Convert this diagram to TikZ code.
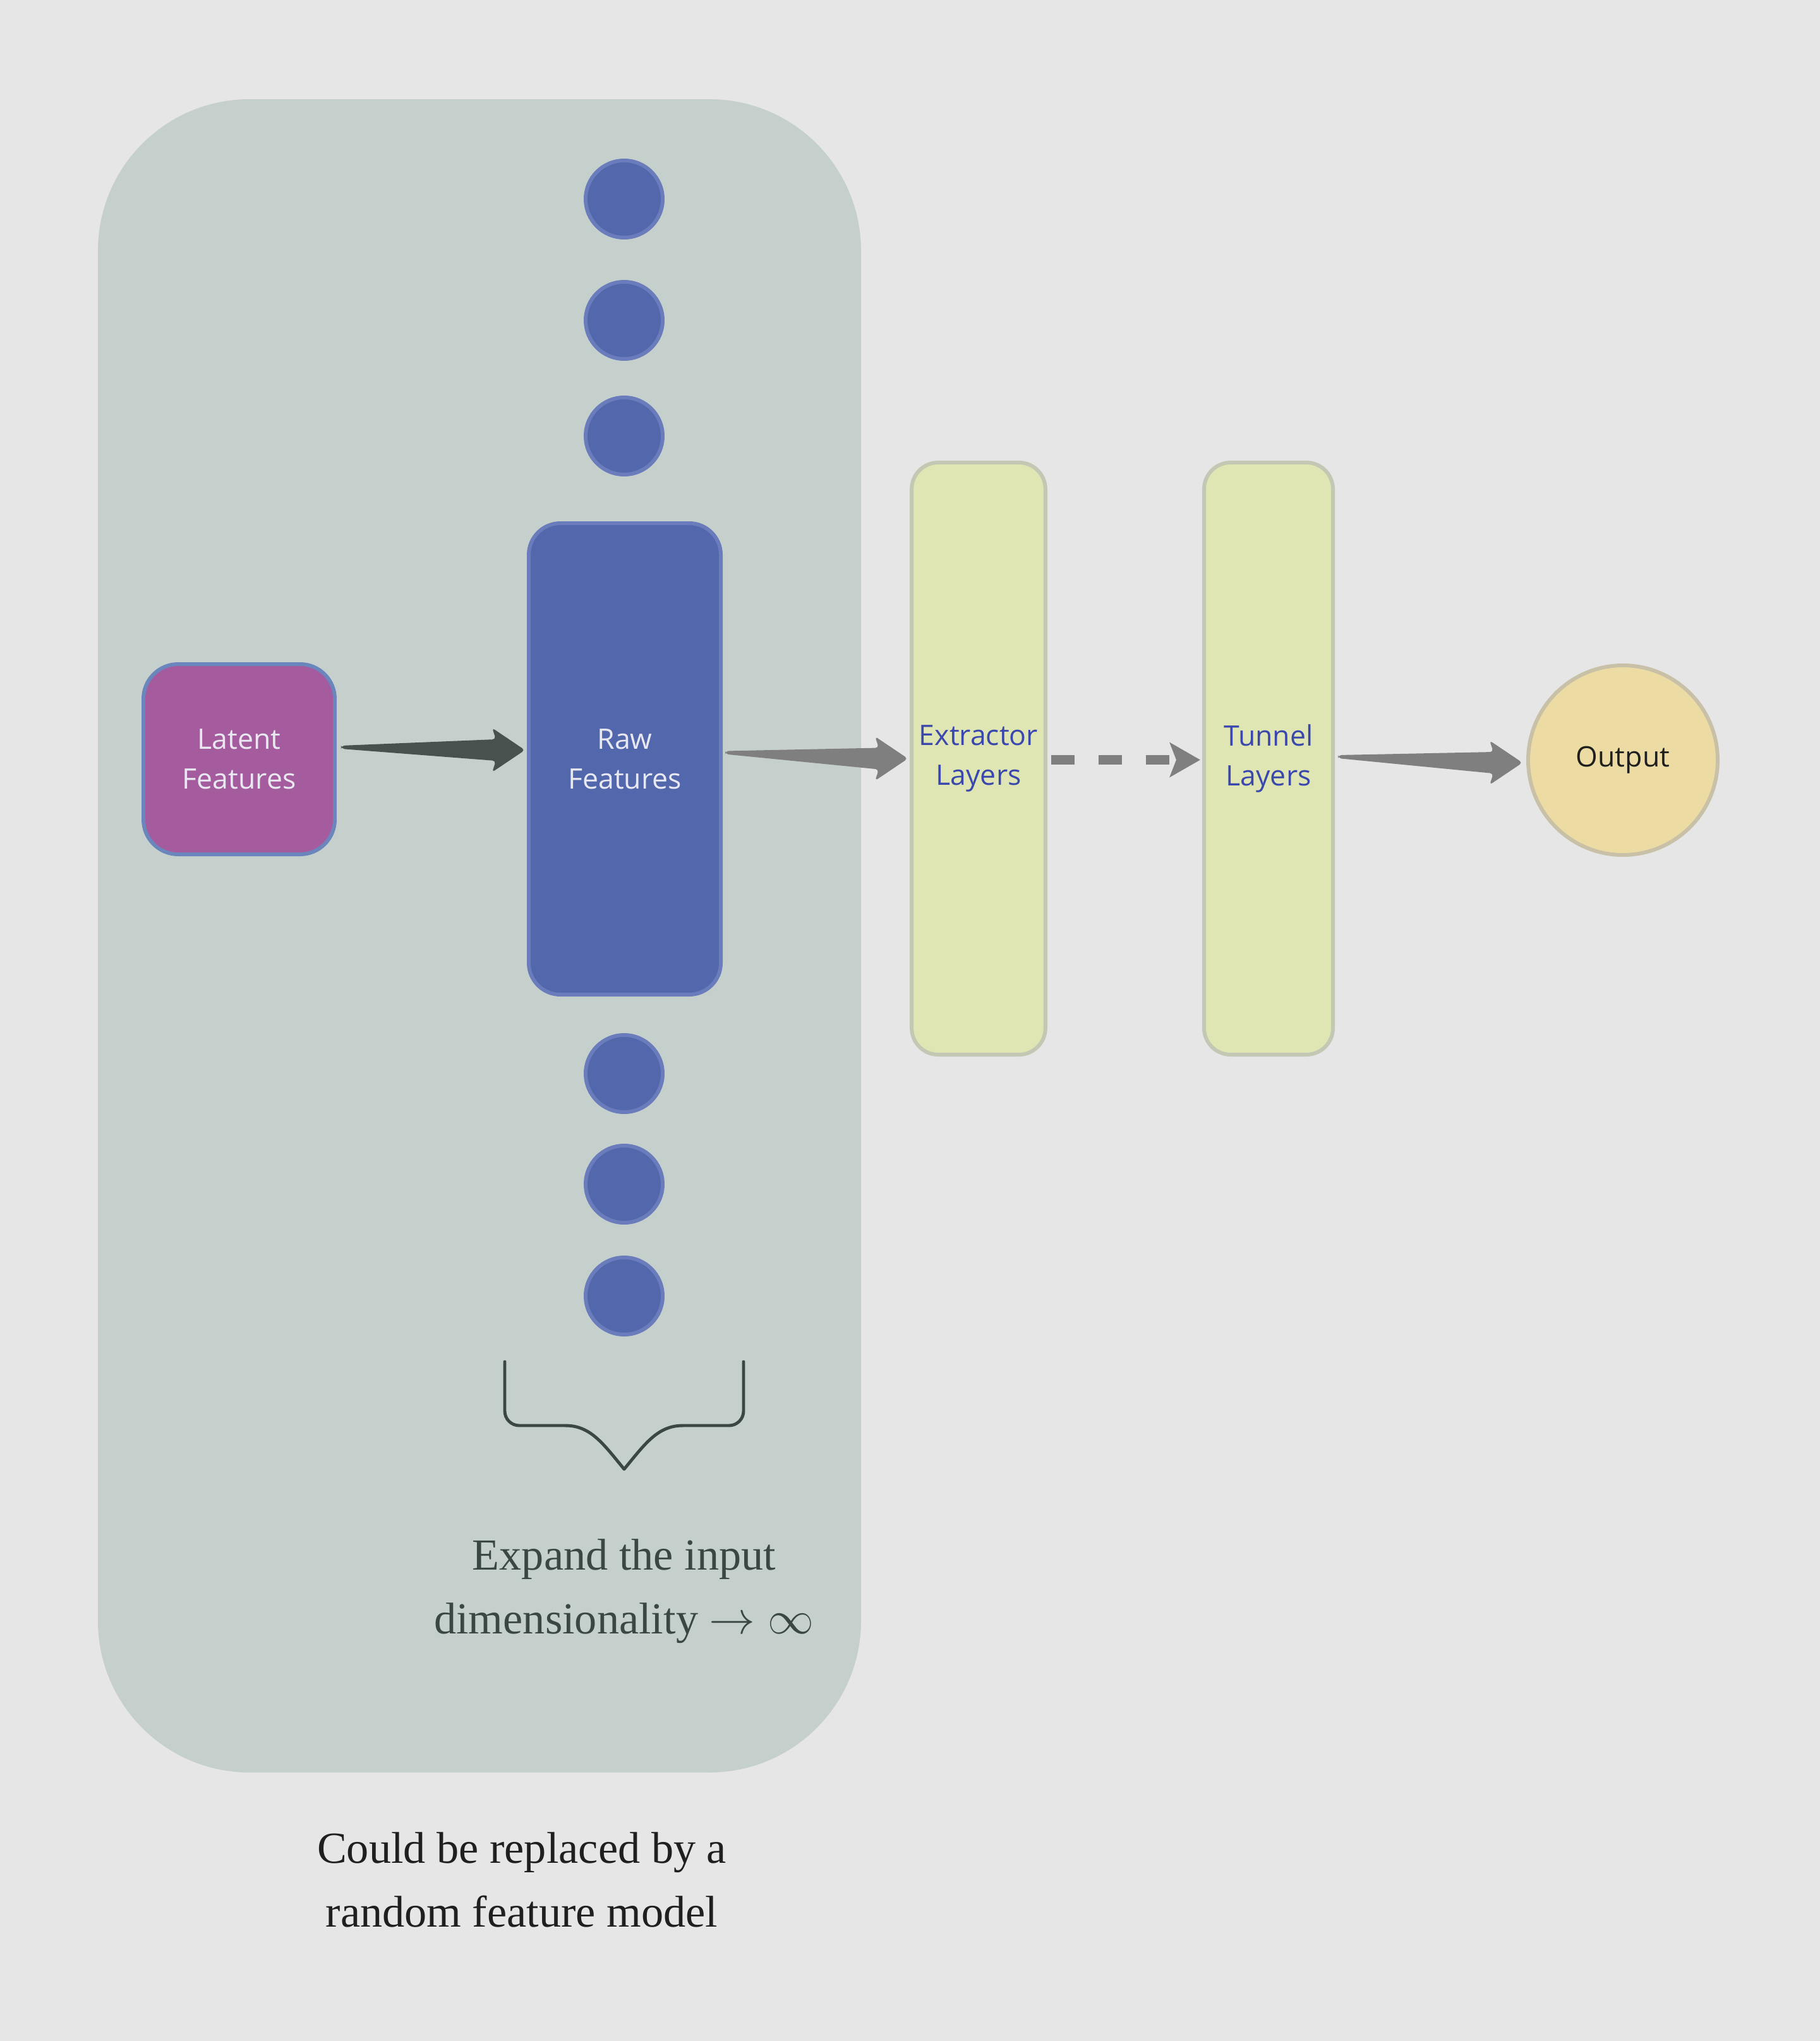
\documentclass[tikz,border=0pt]{standalone}
\usepackage{fontspec}
\setmainfont{Liberation Serif}
\newfontfamily\boxfont{Open Sans}
\usetikzlibrary{arrows.meta,calc}

\definecolor{pagebg}{HTML}{E6E6E6}
\definecolor{regionfill}{HTML}{C5D0CC}
\definecolor{rawblue}{HTML}{5367AD}
\definecolor{rawedge}{HTML}{6A7CBB}
\definecolor{latentfill}{HTML}{A55C9E}
\definecolor{latentedge}{HTML}{6B85BD}
\definecolor{layerfill}{HTML}{DFE5B3}
\definecolor{layeredge}{HTML}{C3C8B5}
\definecolor{outfill}{HTML}{ECDCA4}
\definecolor{outedge}{HTML}{C8C1A7}
\definecolor{darkarrow}{HTML}{47524E}
\definecolor{greyarrow}{HTML}{7F7F7F}
\definecolor{notecol}{HTML}{3B4743}
\definecolor{layertext}{HTML}{3A47AD}
\definecolor{lighttext}{HTML}{E8E9F0}

% wedge shaped connector: colour, start, tip
\newcommand{\wedgearrow}[3]{%
  \fill[#1, rounded corners=1.5pt] ($(#2)+(0,0.025)$) -- ($(#3)+(-0.46,0.17)$)
    -- ($(#3)+(-0.52,0.35)$) -- (#3) -- ($(#3)+(-0.52,-0.35)$)
    -- ($(#3)+(-0.46,-0.17)$) -- ($(#2)+(0,-0.025)$) -- cycle;}

\begin{document}
\begin{tikzpicture}[
    box/.style={rectangle, draw, line width=1.7pt, align=center,
      font=\boxfont\fontsize{12.7}{17.8}\selectfont},
    dot/.style={circle, draw=rawedge, fill=rawblue, line width=1.7pt,
      minimum size=1.22cm, inner sep=0pt},
    note/.style={align=center, font=\fontsize{20}{28.7}\selectfont}]

  \fill[pagebg] (0,0) rectangle (28.81,-32.30);
  \useasboundingbox (0,0) rectangle (28.81,-32.30);

  % feature block
  \fill[regionfill, rounded corners=2.4cm] (1.55,-1.57) rectangle (13.63,-28.05);

  \foreach \i/\y in {1/3.15, 2/5.07, 3/6.90, 4/16.99, 5/18.74, 6/20.51}
    \node[dot] (d\i) at (9.88,-\y) {};

  \node[box, draw=latentedge, fill=latentfill, text=lighttext, rounded corners=0.55cm,
    minimum width=3.03cm, minimum height=3.01cm] (latent) at (3.785,-12.015) {Latent\\Features};
  \node[box, draw=rawedge, fill=rawblue, text=lighttext, rounded corners=0.5cm,
    minimum width=3.04cm, minimum height=7.46cm] (raw) at (9.89,-12.01) {Raw\\Features};

  % layers
  \node[box, draw=layeredge, fill=layerfill, text=layertext, rounded corners=0.42cm,
    minimum width=2.04cm, minimum height=9.37cm] (extr) at (15.49,-12.005) {Extractor\\Layers};
  \node[box, draw=layeredge, fill=layerfill, text=layertext, rounded corners=0.42cm,
    minimum width=2.04cm, minimum height=9.37cm] (tunnel) at (20.08,-12.005) {Tunnel\\Layers};
  \node[box, circle, draw=outedge, fill=outfill, text=black!88, minimum size=3.0cm] (out) at (25.69,-12.03) {Output};

  % connectors
  \coordinate (a1s) at ($(latent.east)+(0.07,0.19)$);
  \coordinate (a1t) at ($(raw.west)+(-0.03,0.14)$);
  \wedgearrow{darkarrow}{a1s}{a1t}
  \coordinate (a2s) at ($(raw.east)+(0.04,0.10)$);
  \coordinate (a2t) at ($(extr.west)+(-0.03,0)$);
  \wedgearrow{greyarrow}{a2s}{a2t}
  \draw[greyarrow, line width=4pt, dash pattern=on 0.37cm off 0.38cm,
    -{Stealth[length=0.48cm, width=0.54cm, inset=0.1cm]}]
    ($(extr.east)+(0.06,-0.02)$) -- ($(tunnel.west)+(-0.03,-0.02)$);
  \coordinate (a3s) at ($(tunnel.east)+(0.05,0.03)$);
  \coordinate (a3t) at ($(out.west)+(-0.06,-0.04)$);
  \wedgearrow{greyarrow}{a3s}{a3t}

  % brace under the dots
  \draw[notecol, line width=1.4pt, line cap=round, line join=round]
    (7.99,-21.55) -- (7.99,-22.33) arc[start angle=180, end angle=270, radius=0.23]
    -- (8.95,-22.56) .. controls (9.35,-22.56) and (9.55,-22.85) .. (9.88,-23.25)
    .. controls (10.21,-22.85) and (10.41,-22.56) .. (10.81,-22.56)
    -- (11.54,-22.56) arc[start angle=270, end angle=360, radius=0.23] -- (11.77,-21.55);

  \node[note, text=notecol] (expand) at (9.88,-25.18) {Expand the input\\dimensionality $\rightarrow\infty$};
  \node[note, text=black!88] (caption) at (8.26,-29.75) {Could be replaced by a\\random feature model};
\end{tikzpicture}
\end{document}
